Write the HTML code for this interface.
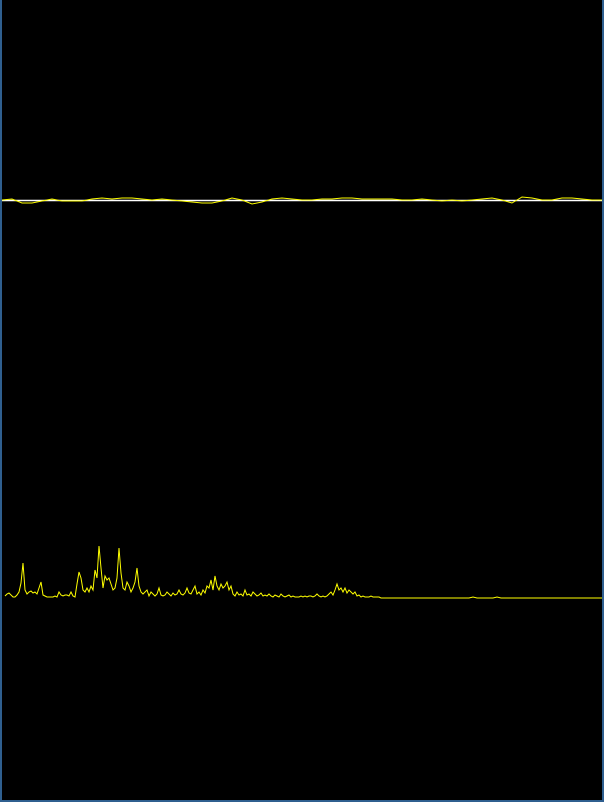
<!DOCTYPE html>
<html><head><meta charset="utf-8"><style>
html,body{margin:0;padding:0;background:#000;}
#wrap{position:relative;width:600px;height:800px;background:#000;border-left:2px solid #2f5f8f;border-right:2px solid #2f5f8f;border-bottom:2px solid #2f5f8f;}
svg{position:absolute;left:0;top:0;}
</style></head><body>
<div id="wrap">
<svg id="viz" width="600" height="800">
<line x1="0" y1="200.5" x2="600" y2="200.5" stroke="#fff" stroke-width="1.5"/>
<polyline id="wave" fill="none" stroke="#ffff00" stroke-width="1"/>
<polyline id="spec" fill="none" stroke="#ffff00" stroke-width="1"/>
</svg>
</div>
<script>
const waveOffsets=[0,-1,3,3,1,-1,1,1,1,-1,-2,-1,-2,-2,-1,0,-1,0,1,2,3,3,1,-2,0,4,2,-1,-2,-1,0,0,-1,-1,-2,-2,-1,-1,-1,-1,0,0,-1,0,1,0,1,0,-1,-2,0,3,-3,-2,0,0,-2,-2,-1,0,0];
const spectrumHeights=[2,4,5,3,1,1,3,6,15,35,8,4,6,7,5,6,4,10,16,3,2,1,1,1,1,2,1,6,3,2,3,3,2,6,2,1,14,26,20,8,6,10,6,12,8,28,20,52,30,10,22,18,20,14,8,10,20,50,25,10,8,16,12,6,10,16,30,12,6,4,6,8,2,6,4,2,4,10,3,2,3,6,4,2,5,3,4,8,4,3,5,10,5,4,8,12,4,6,3,8,5,12,10,18,8,22,12,8,14,10,12,16,8,12,4,2,6,3,4,2,8,3,4,2,6,4,2,3,5,2,3,2,4,2,1,3,2,1,4,2,1,2,3,1,2,1,1,1,2,1,2,1,2,2,1,2,4,2,1,2,1,2,4,6,3,8,14,8,10,6,10,5,8,6,4,6,2,3,1,2,1,1,1,2,1,1,1,1,0,0,0];
const tailBumps=[0,0,0,0,0,0,0,0,0,0,0,0,0,0,0,0,0,0,0,0,0,1,0,0,0,0,0,1,0,0,0,0,0,0,0,0,0,0,0,0,0,0,0,0,0,0,0,0,0,0,0,0,0,0,0,0];
function xWave(i){return i*10;}
function yWave(v){return 200+v;}
function xSpec(i){return 3+i*2;}
function ySpec(v){return 598-v;}
let wp=[];
waveOffsets.forEach((v,i)=>{wp.push(xWave(i)+','+yWave(v));});
document.getElementById('wave').setAttribute('points',wp.join(' '));
let sp=[];
spectrumHeights.forEach((v,i)=>{sp.push(xSpec(i)+','+ySpec(v));});
const start=xSpec(spectrumHeights.length-1);
tailBumps.forEach((v,i)=>{sp.push((start+(i+1)*4)+','+ySpec(v));});
sp.push('600,598');
document.getElementById('spec').setAttribute('points',sp.join(' '));
</script>
</body></html>
